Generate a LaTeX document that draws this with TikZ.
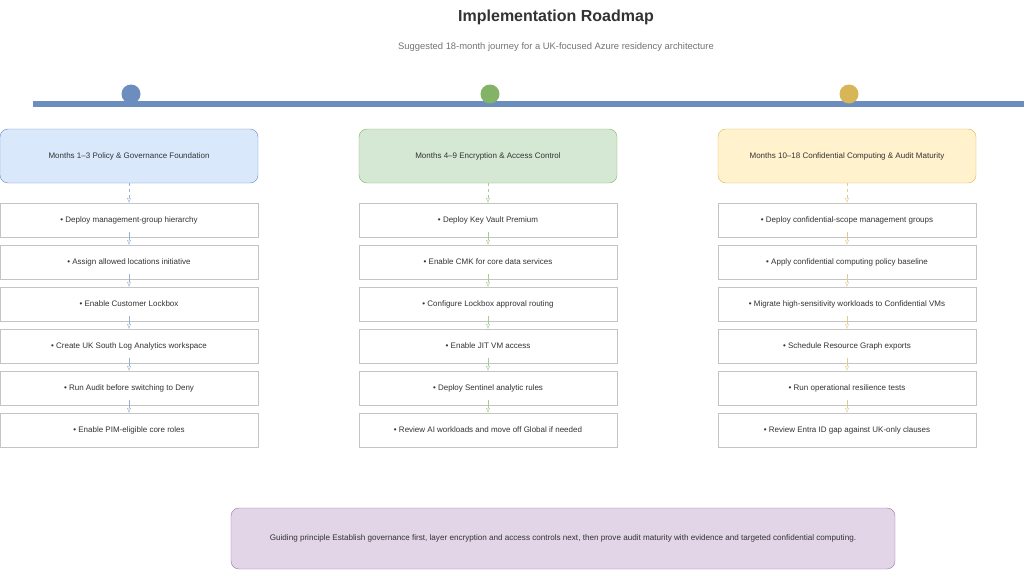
\documentclass[tikz,border=0pt]{standalone}
\usepackage{fontspec}
\setmainfont{Liberation Sans}
\usetikzlibrary{positioning, arrows.meta}
\definecolor{blueline}{HTML}{6C8EBF}
\definecolor{bluefill}{HTML}{DAE8FC}
\definecolor{greenline}{HTML}{82B366}
\definecolor{greenfill}{HTML}{D5E8D4}
\definecolor{yellowline}{HTML}{D6B656}
\definecolor{yellowfill}{HTML}{FFF2CC}
\definecolor{purpleline}{HTML}{9673A6}
\definecolor{purplefill}{HTML}{E1D5E7}
\definecolor{itemline}{HTML}{C4C4C4}
\definecolor{textgray}{HTML}{333333}
\begin{document}
\begin{tikzpicture}[x=1pt, y=-1pt, node distance=8pt,
    phase/.style={rectangle, draw, rounded corners=8pt, minimum width=258pt, minimum height=54pt, outer sep=0pt, font=\fontsize{8}{10}\selectfont, text=textgray},
    task/.style={rectangle, draw=itemline, fill=white, minimum width=258pt, minimum height=34pt, outer sep=0pt, font=\fontsize{8}{10}\selectfont, text=textgray},
    dot/.style={circle, minimum size=19pt, inner sep=0pt},
    link/.style={-{Latex[length=5pt, width=4pt, open]}, thin},
    note/.style={rectangle, draw=purpleline, fill=purplefill, rounded corners=8pt, minimum width=664pt, minimum height=61pt, font=\fontsize{8.1}{10}\selectfont, text=textgray}]
    \useasboundingbox (0,0) rectangle (1024,570);

    % title
    \node [font=\bfseries\fontsize{16}{19}\selectfont, text=textgray] (title) at (556,17) {Implementation Roadmap};
    \node [font=\fontsize{9.4}{11}\selectfont, text=black!55] (subtitle) at (556,47) {Suggested 18-month journey for a UK-focused Azure residency architecture};

    % timeline
    \fill [blueline] (33,101) rectangle (1024,107);
    \node [dot, fill=blueline] (dot1) at (131,94) {};
    \node [dot, fill=greenline] (dot2) at (490,94) {};
    \node [dot, fill=yellowline] (dot3) at (849,94) {};

    % phase 1
    \node [phase, draw=blueline, fill=bluefill] (p1) at (129,156) {Months 1--3 Policy \& Governance Foundation};
    \node [task, below=20pt of p1] (p1a) {• Deploy management-group hierarchy};
    \node [task, below=of p1a] (p1b) {• Assign allowed locations initiative};
    \node [task, below=of p1b] (p1c) {• Enable Customer Lockbox};
    \node [task, below=of p1c] (p1d) {• Create UK South Log Analytics workspace};
    \node [task, below=of p1d] (p1e) {• Run Audit before switching to Deny};
    \node [task, below=of p1e] (p1f) {• Enable PIM-eligible core roles};

    % phase 2
    \node [phase, draw=greenline, fill=greenfill] (p2) at (488,156) {Months 4--9 Encryption \& Access Control};
    \node [task, below=20pt of p2] (p2a) {• Deploy Key Vault Premium};
    \node [task, below=of p2a] (p2b) {• Enable CMK for core data services};
    \node [task, below=of p2b] (p2c) {• Configure Lockbox approval routing};
    \node [task, below=of p2c] (p2d) {• Enable JIT VM access};
    \node [task, below=of p2d] (p2e) {• Deploy Sentinel analytic rules};
    \node [task, below=of p2e] (p2f) {• Review AI workloads and move off Global if needed};

    % phase 3
    \node [phase, draw=yellowline, fill=yellowfill] (p3) at (847,156) {Months 10--18 Confidential Computing \& Audit Maturity};
    \node [task, below=20pt of p3] (p3a) {• Deploy confidential-scope management groups};
    \node [task, below=of p3a] (p3b) {• Apply confidential computing policy baseline};
    \node [task, below=of p3b] (p3c) {• Migrate high-sensitivity workloads to Confidential VMs};
    \node [task, below=of p3c] (p3d) {• Schedule Resource Graph exports};
    \node [task, below=of p3d] (p3e) {• Run operational resilience tests};
    \node [task, below=of p3e] (p3f) {• Review Entra ID gap against UK-only clauses};

    % connectors
    \draw [link, dashed, blueline!70] (p1) -- (p1a);
    \draw [link, dashed, greenline!70] (p2) -- (p2a);
    \draw [link, dashed, yellowline!70] (p3) -- (p3a);
    \foreach \c/\col in {1/blueline, 2/greenline, 3/yellowline}
      \foreach \a/\b in {a/b, b/c, c/d, d/e, e/f}
        \draw [link, \col!70, shorten <=-5pt] (p\c\a) -- (p\c\b);

    % guiding principle
    \node [note] (guide) at (563,538.5) {Guiding principle Establish governance first, layer encryption and access controls next, then prove audit maturity with evidence and targeted confidential computing.};
\end{tikzpicture}
\end{document}
